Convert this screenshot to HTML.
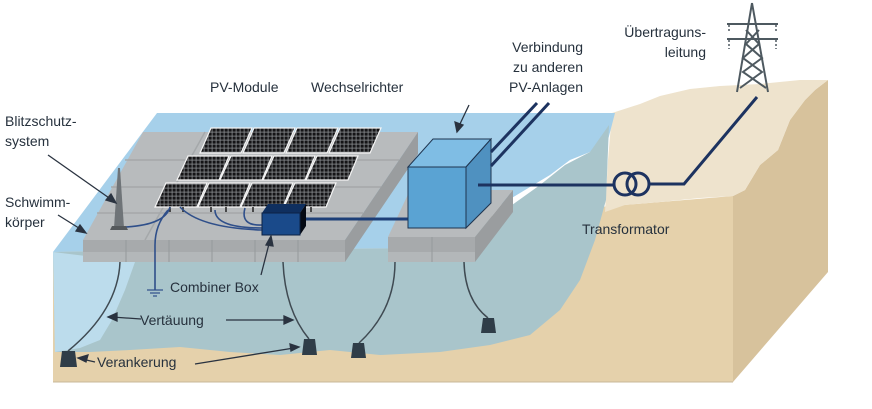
<!DOCTYPE html>
<html><head><meta charset="utf-8"><style>
html,body{margin:0;padding:0;background:#fff;width:872px;height:409px;overflow:hidden}
svg{display:block}
text{font-family:"Liberation Sans",sans-serif;font-size:14px;fill:#26313d}
</style></head><body>
<svg width="872" height="409" viewBox="0 0 872 409" xmlns="http://www.w3.org/2000/svg">
<defs>
<pattern id="pv" width="4" height="4" patternUnits="userSpaceOnUse">
<rect width="4" height="4" fill="#8a8d90"/><rect x="0.5" y="0.5" width="3.2" height="3.2" fill="#141416"/>
</pattern>
</defs>
<!-- right land face -->
<polygon points="733,196 745,190 760,165 778,150 790,120 805,100 815,90 828,80 828,272 733,382" fill="#d7c29c"/>
<!-- front face sand -->
<polygon points="53,252 733,196 733,382 53,382" fill="#e5d1ab"/>
<!-- land top surface -->
<polygon points="612,113 640,104 660,96 690,89 720,86 760,84 800,80 828,80 815,90 805,100 790,120 778,150 760,165 745,190 733,196 700,198 660,202 625,205 605,212 608,160" fill="#eee3cd"/>
<!-- water surface -->
<polygon points="157,113 615,113 608,140 590,152 570,160 550,175 525,190 500,205 470,225 440,248 53,252" fill="#a6d0ea"/>
<!-- underwater teal -->
<path d="M53,252 L440,248 L470,228 L505,210 L540,185 L565,165 L590,152 L609,125 L606,200 L595,240 L580,280 L560,310 L530,335 L490,345 L440,352 L380,355 L330,350 L280,355 L230,352 L180,347 L130,350 L90,352 L55,352 Z" fill="#a9c5cb"/>
<path d="M53,252 L135,262 L125,290 L112,320 L100,340 L80,348 L55,352 Z" fill="#bcdcec"/>
<line x1="53" y1="382" x2="733" y2="382" stroke="#c8b898" stroke-width="1"/>

<!-- left platform -->
<polygon points="143,132 418,132 345,240 83,240" fill="#b8bbbd"/>
<g stroke="#a5a8aa" stroke-width="1.5" fill="none">
<line x1="125" y1="160" x2="399" y2="160"/><line x1="111" y1="187" x2="381" y2="187"/><line x1="97" y1="213" x2="363" y2="213"/>
<line x1="205" y1="132" x2="145" y2="240"/>
</g>
<polygon points="83,240 345,240 345,262 83,262" fill="#a7aaac"/>
<polygon points="83,252 345,252 345,262 83,262" fill="#b3b7b9"/>
<polygon points="345,240 418,132 418,154 345,262" fill="#9a9d9f"/>
<g stroke="#969a9c" stroke-width="1"><line x1="126" y1="240" x2="126" y2="262"/><line x1="169" y1="240" x2="169" y2="262"/><line x1="212" y1="240" x2="212" y2="262"/><line x1="255" y1="240" x2="255" y2="262"/><line x1="298" y1="240" x2="298" y2="262"/></g>

<!-- right platform -->
<polygon points="410,190 513,190 475,237 388,237" fill="#b8bbbd"/>
<polygon points="388,237 475,237 475,262 388,262" fill="#a7aaac"/>
<polygon points="388,252 475,252 475,262 388,262" fill="#b3b7b9"/>
<polygon points="475,237 513,190 513,212 475,262" fill="#9a9d9f"/>
<line x1="432" y1="237" x2="432" y2="262" stroke="#969a9c"/>

<!-- panels -->
<g fill="url(#pv)" stroke="#f4f4f4" stroke-width="1.2">
<polygon points="211,128 252,128 241,153 200,153"/><polygon points="254,128 295,128 284,153 243,153"/><polygon points="297,128 338,128 327,153 286,153"/><polygon points="340,128 381,128 370,153 329,153"/>
<polygon points="188,156 229,156 219,180 177,180"/><polygon points="231,156 272,156 262,180 220,180"/><polygon points="274,156 315,156 305,180 263,180"/><polygon points="317,156 358,156 348,180 306,180"/>
<polygon points="166,183 207,183 197,207 155,207"/><polygon points="209,183 250,183 240,207 198,207"/><polygon points="252,183 293,183 283,207 241,207"/><polygon points="295,183 336,183 326,207 284,207"/>
</g>
<g stroke="#222" stroke-width="1.5"><line x1="170" y1="207" x2="170" y2="212"/><line x1="183" y1="207" x2="183" y2="212"/><line x1="211" y1="207" x2="211" y2="212"/><line x1="226" y1="207" x2="226" y2="212"/><line x1="253" y1="207" x2="253" y2="212"/><line x1="311" y1="207" x2="311" y2="212"/></g>
<!-- cables -->
<g stroke="#2f4f8a" stroke-width="1.6" fill="none">
<path d="M170,207 Q165,225 125,227"/>
<path d="M168,210 Q155,225 155,245 L155,290"/>
<path d="M180,207 Q200,228 262,230"/>
<path d="M215,210 Q215,228 262,228"/>
<path d="M245,208 Q240,226 262,225"/>
</g>
<g stroke="#2f4f8a" stroke-width="1.2"><line x1="147" y1="290" x2="163" y2="290"/><line x1="150" y1="293" x2="160" y2="293"/><line x1="153" y1="296" x2="157" y2="296"/></g>
<!-- lightning rod -->
<polygon points="118,168 120,168 124,228 114,228" fill="#6f7478"/>
<polygon points="112,226 126,226 128,230 110,230" fill="#55595c"/>

<!-- combiner box -->
<polygon points="262,213 300,213 306,204 268,204" fill="#0f2f5f"/>
<polygon points="300,213 306,204 306,226 300,235" fill="#050a14"/>
<rect x="262" y="213" width="38" height="22" fill="#1a4a8a" stroke="#0c2244"/>
<line x1="306" y1="219" x2="408" y2="219" stroke="#1d3f78" stroke-width="3"/>

<!-- inverter -->
<polygon points="408,167 466,167 491,139 433,139" fill="#7fbde4" stroke="#1f3550" stroke-width="1"/>
<polygon points="466,167 491,139 491,203 466,228" fill="#4f91c0" stroke="#1f3550" stroke-width="1"/>
<rect x="408" y="167" width="58" height="61" fill="#5aa3d3" stroke="#1f3550" stroke-width="1"/>
<g stroke="#1d3360" stroke-width="3"><line x1="491" y1="152" x2="537" y2="103"/><line x1="491" y1="166" x2="549" y2="103"/></g>
<path d="M478,185 L614,185" stroke="#1d3360" stroke-width="3"/>
<circle cx="625" cy="184" r="11" fill="none" stroke="#1d3360" stroke-width="3"/>
<circle cx="638" cy="184" r="11" fill="none" stroke="#1d3360" stroke-width="3"/>
<path d="M649,184 L684,184 L757,97" stroke="#1d3360" stroke-width="3" fill="none"/>

<!-- tower -->
<g stroke="#4e5960" stroke-width="2" fill="none">
<path d="M752,3 L737,92 M752,3 L768,92"/>
<path d="M746,30 L759,44 L743,58 L762,72 L740,88 M759,30 L746,44 L762,58 L743,72 L766,88"/>
<line x1="727" y1="24" x2="778" y2="24"/><line x1="727" y1="39" x2="778" y2="39"/>
</g>
<g stroke="#4e5960" stroke-width="1.5" stroke-dasharray="2,2"><line x1="729" y1="25" x2="729" y2="33"/><line x1="776" y1="25" x2="776" y2="33"/><line x1="729" y1="40" x2="729" y2="49"/><line x1="776" y1="40" x2="776" y2="49"/></g>

<!-- moorings -->
<g stroke="#3f4a52" stroke-width="1.5" fill="none">
<path d="M120,262 Q118,310 68,351"/>
<path d="M283,262 Q285,310 309,339"/>
<path d="M395,262 Q395,310 359,343"/>
<path d="M464,262 Q465,300 488,318"/>
</g>
<g fill="#2f3d48">
<polygon points="62,351 75,351 77,367 60,367"/><polygon points="304,339 315,339 317,355 302,355"/><polygon points="353,343 364,343 366,358 351,358"/><polygon points="483,318 494,318 496,333 481,333"/>
</g>

<!-- pointer arrows -->
<g stroke="#2a3340" stroke-width="1.3" fill="#2a3340">
<line x1="48" y1="155" x2="112" y2="200"/><polygon points="116,203 106,200 111,194"/>
<line x1="58" y1="215" x2="82" y2="230"/><polygon points="86,233 76,231 80,225"/>
<line x1="261" y1="275" x2="270" y2="240"/><polygon points="271,236 273,246 266,245"/>
<line x1="469" y1="105" x2="459" y2="126"/><polygon points="457,132 455,122 463,125"/>
<line x1="141" y1="319" x2="112" y2="317"/><polygon points="108,317 117,313 117,321"/>
<line x1="226" y1="320" x2="288" y2="320"/><polygon points="293,320 284,316 284,324"/>
<line x1="95" y1="362" x2="82" y2="359"/><polygon points="78,358 88,355 86,362"/>
<line x1="195" y1="364" x2="294" y2="348"/><polygon points="299,347 290,344 291,351"/>
</g>

<!-- labels -->
<text x="5" y="126">Blitzschutz-</text>
<text x="5" y="146">system</text>
<text x="5" y="207">Schwimm-</text>
<text x="5" y="227">körper</text>
<text x="210" y="92">PV-Module</text>
<text x="311" y="92">Wechselrichter</text>
<text x="583" y="52" text-anchor="end">Verbindung</text>
<text x="583" y="72" text-anchor="end">zu anderen</text>
<text x="583" y="92" text-anchor="end">PV-Anlagen</text>
<text x="706" y="37" text-anchor="end">Übertraguns-</text>
<text x="706" y="57" text-anchor="end">leitung</text>
<text x="582" y="234">Transformator</text>
<text x="170" y="292">Combiner Box</text>
<text x="140" y="325">Vertäuung</text>
<text x="97" y="367">Verankerung</text>
</svg>
</body></html>
